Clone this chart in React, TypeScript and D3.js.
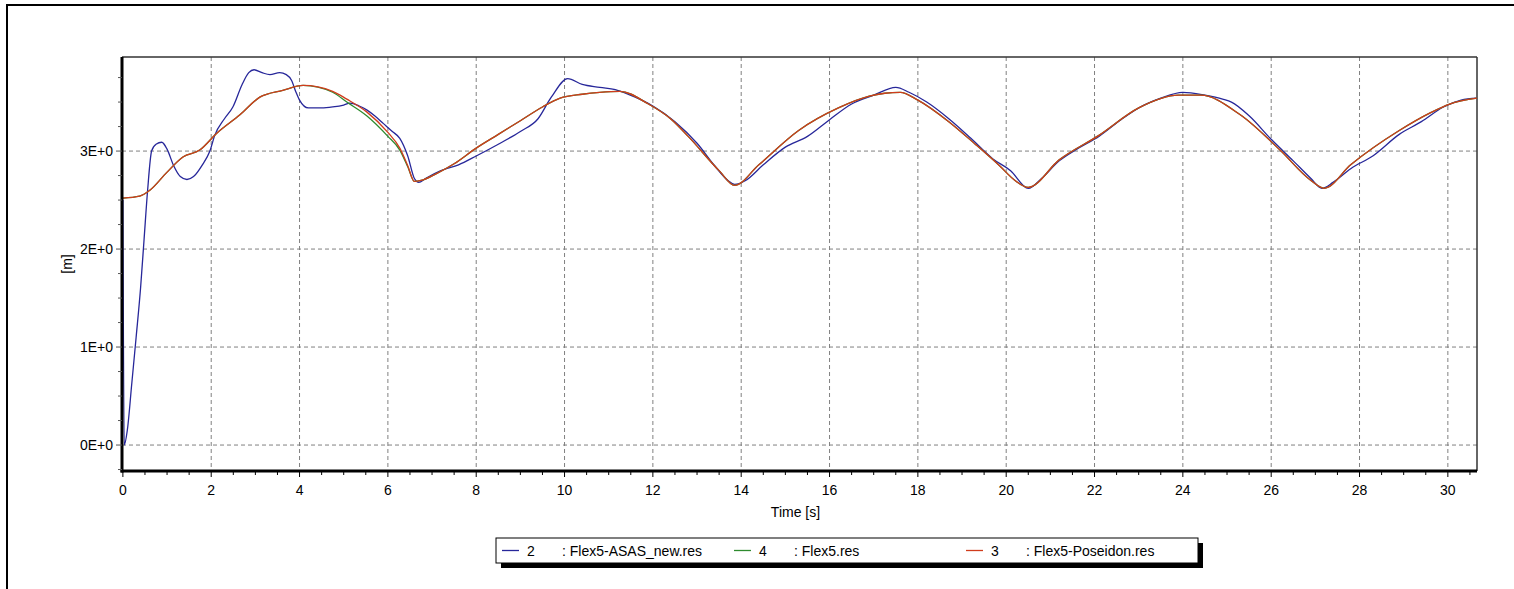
import React from "react";
import * as d3 from "d3";

// series: time [s] and value [m]
const asasT = [0, 0.03, 0.1, 0.2, 0.3, 0.4, 0.48, 0.56, 0.65, 0.75, 0.88, 1.0, 1.15, 1.3, 1.45, 1.6, 1.8, 1.97, 2.08, 2.3, 2.49, 2.7, 2.85, 2.97, 3.15, 3.33, 3.55, 3.7, 3.82, 3.92, 4.0, 4.2, 4.5, 4.75, 5.0, 5.14, 5.35, 5.52, 5.7, 5.9, 6.1, 6.27, 6.45, 6.6, 6.7, 6.85, 7.2, 7.6, 8.0, 8.5, 9.0, 9.4, 9.7, 10.07, 10.4, 10.8, 11.2, 11.6, 12.0, 12.5, 13.0, 13.4, 13.7, 13.85, 14.1, 14.5, 15.0, 15.5, 16.0, 16.5, 17.0, 17.5, 17.8, 18.2, 18.7, 19.2, 19.7, 20.1, 20.5, 20.8, 21.2, 21.6, 22.1, 22.6, 23.0, 23.5, 24.0, 24.5, 24.9, 25.1, 25.5, 26.0, 26.5, 26.9, 27.15, 27.4, 27.8, 28.3, 28.9, 29.4, 29.9, 30.3, 30.66];
const asasV = [2.5, 0.0, 0.15, 0.62, 1.1, 1.6, 2.1, 2.6, 3.0, 3.07, 3.09, 3.02, 2.85, 2.74, 2.71, 2.74, 2.86, 3.0, 3.16, 3.33, 3.45, 3.68, 3.8, 3.83, 3.8, 3.78, 3.8, 3.78, 3.72, 3.6, 3.52, 3.44, 3.44, 3.45, 3.47, 3.49, 3.46, 3.42, 3.36, 3.28, 3.2, 3.13, 2.95, 2.72, 2.68, 2.72, 2.8, 2.86, 2.95, 3.07, 3.2, 3.33, 3.55, 3.74, 3.68, 3.65, 3.62, 3.55, 3.46, 3.3, 3.08, 2.85, 2.7, 2.66, 2.7, 2.86, 3.04, 3.15, 3.32, 3.48, 3.57, 3.65, 3.6, 3.5, 3.33, 3.13, 2.92, 2.8, 2.62, 2.72, 2.9, 3.02, 3.15, 3.32, 3.44, 3.54, 3.6, 3.57, 3.53, 3.5, 3.36, 3.12, 2.9, 2.72, 2.62, 2.68, 2.82, 2.95, 3.17, 3.3, 3.45, 3.52, 3.54];

const flexT = [0, 0.38, 0.61, 0.99, 1.36, 1.74, 2.12, 2.65, 3.1, 3.62, 4.08, 4.75, 5.07, 5.52, 6.0, 6.27, 6.45, 6.6, 6.75, 7.1, 7.5, 8.0, 8.5, 9.0, 9.5, 9.9, 10.4, 10.8, 11.25, 11.9, 12.4, 12.8, 13.5, 13.85, 14.4, 15.3, 16.2, 16.9, 17.25, 17.6, 18.0, 18.7, 19.3, 19.85, 20.2, 20.5, 21.2, 22.1, 23.0, 23.9, 24.4, 25.3, 26.2, 26.9, 27.2, 27.8, 28.9, 29.6, 30.04, 30.66];
const flexV = [2.52, 2.54, 2.6, 2.78, 2.94, 3.01, 3.18, 3.37, 3.55, 3.62, 3.67, 3.6, 3.5, 3.36, 3.15, 3.01, 2.84, 2.69, 2.7, 2.77, 2.87, 3.03, 3.17, 3.31, 3.45, 3.54, 3.58, 3.6, 3.61, 3.48, 3.33, 3.15, 2.8, 2.65, 2.86, 3.21, 3.44, 3.56, 3.59, 3.6, 3.52, 3.3, 3.07, 2.85, 2.7, 2.63, 2.91, 3.16, 3.44, 3.57, 3.57, 3.37, 3.01, 2.7, 2.62, 2.86, 3.21, 3.39, 3.48, 3.54];

const poseidonT = [0, 0.38, 0.61, 0.99, 1.36, 1.74, 2.12, 2.65, 3.1, 3.62, 4.08, 4.75, 5.07, 5.52, 6.0, 6.27, 6.45, 6.6, 6.75, 7.1, 7.5, 8.0, 8.5, 9.0, 9.5, 9.9, 10.4, 10.8, 11.25, 11.9, 12.4, 12.8, 13.5, 13.85, 14.4, 15.3, 16.2, 16.9, 17.25, 17.6, 18.0, 18.7, 19.3, 19.85, 20.2, 20.5, 21.2, 22.1, 23.0, 23.9, 24.4, 25.3, 26.2, 26.9, 27.2, 27.8, 28.9, 29.6, 30.04, 30.66];
const poseidonV = [2.52, 2.54, 2.6, 2.78, 2.94, 3.01, 3.18, 3.37, 3.55, 3.62, 3.67, 3.61, 3.53, 3.4, 3.19, 3.03, 2.85, 2.69, 2.7, 2.77, 2.87, 3.03, 3.17, 3.31, 3.45, 3.54, 3.58, 3.6, 3.61, 3.48, 3.33, 3.15, 2.8, 2.65, 2.86, 3.21, 3.44, 3.56, 3.59, 3.6, 3.52, 3.3, 3.07, 2.85, 2.7, 2.63, 2.91, 3.16, 3.44, 3.57, 3.57, 3.37, 3.01, 2.7, 2.62, 2.86, 3.21, 3.39, 3.48, 3.54];

const xTicks = [0, 2, 4, 6, 8, 10, 12, 14, 16, 18, 20, 22, 24, 26, 28, 30];
const yTicks = [0, 1, 2, 3];
const yTickLabels = ["0E+0", "1E+0", "2E+0", "3E+0"];
const legendNums = ["2", "4", "3"];
const legendNames = [": Flex5-ASAS_new.res", ": Flex5.res", ": Flex5-Poseidon.res"];
const colors = ["#27279a", "#2e8b2e", "#d03c1c"];

const W = 1514;
const H = 589;
const left = 122, right = 1477, top = 57, bottom = 471;
const font = "'Liberation Sans', Arial, sans-serif";

export default function App() {
  const x = d3.scaleLinear().domain([-0.02, 30.66]).range([left, right]);
  const y = d3.scaleLinear().domain([-0.265, 3.96]).range([bottom, top]);

  const line = d3
    .line<[number, number]>()
    .x((d) => x(d[0]))
    .y((d) => y(d[1]))
    .curve(d3.curveMonotoneX);

  const series = [
    asasT.map((t, i) => [t, asasV[i]] as [number, number]),
    flexT.map((t, i) => [t, flexV[i]] as [number, number]),
    poseidonT.map((t, i) => [t, poseidonV[i]] as [number, number]),
  ];

  const minorX = d3.range(0, 30.6, 0.5);
  const minorY = d3.range(-0.25, 3.96, 0.25);

  const legX = 496, legY = 538, legW = 702, legH = 25;
  const colW = 232;

  return (
    <div style={{ position: "fixed", left: 0, top: 0, width: W, height: H, overflow: "hidden", background: "#fff" }}>
      <svg width={W} height={H} style={{ display: "block" }} fontFamily={font}>
        <rect x={0} y={0} width={W} height={H} fill="#fff" />
        {/* outer window frame: only top and left edges are in view */}
        <line x1={6} x2={W} y1={5} y2={5} stroke="#000" strokeWidth={2} />
        <line x1={7} x2={7} y1={4} y2={H} stroke="#000" strokeWidth={2} />

        <defs>
          <clipPath id="plot">
            <rect x={left} y={top} width={right - left} height={bottom - top} />
          </clipPath>
        </defs>

        {/* grid */}
        {xTicks.filter((t) => t > 0).map((t) => (
          <line key={"gx" + t} x1={x(t)} x2={x(t)} y1={top} y2={bottom} stroke="#808080" strokeDasharray="4,3" />
        ))}
        {yTicks.map((v) => (
          <line key={"gy" + v} x1={left} x2={right} y1={y(v)} y2={y(v)} stroke="#808080" strokeDasharray="4,3" />
        ))}

        {/* frame top/right */}
        <line x1={left} x2={right} y1={top} y2={top} stroke="#333" strokeWidth={1.5} />
        <line x1={right} x2={right} y1={top} y2={bottom} stroke="#333" strokeWidth={1.5} />

        {/* series */}
        <g clipPath="url(#plot)" fill="none" strokeWidth={1.3}>
          {series.map((s, i) => (
            <path key={i} d={line(s) || ""} stroke={colors[i]} />
          ))}
        </g>

        {/* axes */}
        <line x1={left} x2={left} y1={top} y2={bottom + 1.5} stroke="#000" strokeWidth={3} />
        <line x1={left - 1.5} x2={right} y1={bottom} y2={bottom} stroke="#000" strokeWidth={3} />

        {minorX.map((t) => (
          <line key={"mx" + t} x1={x(t)} x2={x(t)} y1={bottom} y2={bottom + (t % 2 === 0 ? 6 : 4)} stroke="#000" />
        ))}
        {minorY.map((v) => (
          <line key={"my" + v} x1={left - (Math.abs(v % 1) < 1e-6 ? 6 : 4)} x2={left} y1={y(v)} y2={y(v)} stroke="#555" />
        ))}

        {xTicks.map((t) => (
          <text key={"tx" + t} x={x(t)} y={490} fontSize={14} textAnchor="middle" dominantBaseline="central" fill="#000">
            {t}
          </text>
        ))}
        {yTicks.map((v, i) => (
          <text key={"ty" + v} x={left - 9} y={y(v)} fontSize={14} textAnchor="end" dominantBaseline="central" fill="#000">
            {yTickLabels[i]}
          </text>
        ))}

        <text x={(left + right) / 2 - 4} y={512} fontSize={14} textAnchor="middle" dominantBaseline="central">
          Time [s]
        </text>
        <text
          transform={`translate(67,${(top + bottom) / 2}) rotate(-90)`}
          fontSize={14}
          textAnchor="middle"
          dominantBaseline="central"
        >
          [m]
        </text>

        {/* legend */}
        <rect x={legX + 5} y={legY + 5} width={legW} height={legH} fill="#000" />
        <rect x={legX} y={legY} width={legW} height={legH} fill="#fff" stroke="#000" strokeWidth={1} />
        {legendNums.map((n, i) => {
          const x0 = legX + 6 + i * colW;
          const cy = legY + legH / 2;
          return (
            <g key={"lg" + i}>
              <line x1={x0} x2={x0 + 17} y1={cy} y2={cy} stroke={colors[i]} strokeWidth={1.3} />
              <text x={x0 + 25} y={cy} fontSize={14} dominantBaseline="central">
                {n}
              </text>
              <text x={x0 + 60} y={cy} fontSize={14} dominantBaseline="central">
                {legendNames[i]}
              </text>
            </g>
          );
        })}
      </svg>
    </div>
  );
}
